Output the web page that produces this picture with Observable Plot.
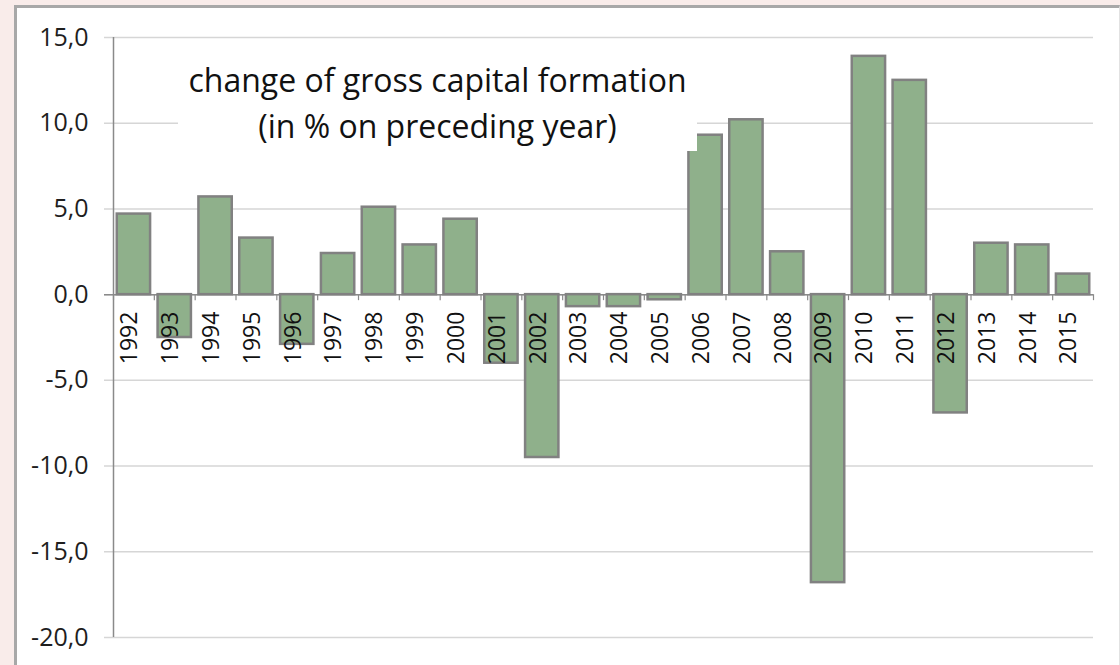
<!DOCTYPE html>
<html>
<head>
<meta charset="utf-8">
<script src="https://cdn.jsdelivr.net/npm/d3@7"></script>
<script src="https://cdn.jsdelivr.net/npm/@observablehq/plot@0.6"></script>
<style>
  html, body { margin: 0; padding: 0; width: 1120px; height: 665px; overflow: hidden; background: #f9ecea; }
  #frame { position: absolute; left: 14px; top: 5px; width: 1102px; height: 670px; background: #ffffff;
           border-top: 3px solid #a8a8a8; border-left: 3px solid #a8a8a8; border-right: 1px solid #e2e2e2; }
  #chart { position: absolute; left: 0; top: 0; }
  #title { position: absolute; left: 178px; top: 50px; width: 519px; height: 94px; padding-top: 7px;
           background: #ffffff; text-align: center; font-family: "Open Sans", sans-serif; font-size: 32px;
           line-height: 46px; color: #111111; white-space: nowrap; }
</style>
</head>
<body>
<div id="frame"></div>
<div id="chart"></div>
<div id="title">change of gross capital formation<br>(in % on preceding year)</div>
<script>
const years = ["1992","1993","1994","1995","1996","1997","1998","1999","2000","2001","2002","2003",
               "2004","2005","2006","2007","2008","2009","2010","2011","2012","2013","2014","2015"];
const values = [4.7, -2.5, 5.7, 3.3, -2.9, 2.4, 5.1, 2.9, 4.4, -4.0, -9.5, -0.7,
                -0.7, -0.3, 9.3, 10.2, 2.5, -16.8, 13.9, 12.5, -6.9, 3.0, 2.9, 1.2];
const yTicks = [-20, -15, -10, -5, 0, 5, 10, 15];

const data = years.map((year, i) => ({year, i, value: values[i]}));
const boundaries = d3.range(years.length + 1);

const chart = Plot.plot({
  width: 1120,
  height: 665,
  marginLeft: 113,
  marginRight: 27,
  marginTop: 37,
  marginBottom: 28,
  x: {domain: [0, years.length], axis: null},
  y: {domain: [-20, 15], axis: null},
  style: {background: "transparent", fontFamily: "'Open Sans', sans-serif", color: "#1e1e1e"},
  marks: [
    Plot.ruleY(yTicks, {stroke: "#d6d6d6", strokeWidth: 1.5, insetLeft: -9}),
    Plot.axisY(yTicks, {tickSize: 0, tickPadding: 25, fontSize: 25, label: null,
                        tickFormat: d => d.toFixed(1).replace(".", ",")}),
    Plot.ruleX([0], {stroke: "#8a8a8a", strokeWidth: 1.5}),
    Plot.ruleY([0], {stroke: "#8a8a8a", strokeWidth: 1.5, insetLeft: -9}),
    Plot.ruleX(boundaries, {x: d => d, y1: 0, y2: 0, insetBottom: -6, stroke: "#8a8a8a", strokeWidth: 1.2}),
    Plot.rectY(data, {x1: "i", x2: d => d.i + 1, y1: 0, y2: "value",
                      fill: "#8fb08b", stroke: "#818181", strokeWidth: 2.5,
                      insetLeft: 3.75, insetRight: 3.75}),
    Plot.text(data, {x: d => d.i + 0.5, y: d => 0, text: "year", rotate: -90,
                     textAnchor: "end", lineAnchor: "middle", dy: 17, dx: -4,
                     fontSize: 23, fill: "#111111"})
  ]
});
document.getElementById("chart").appendChild(chart);
</script>
</body>
</html>
